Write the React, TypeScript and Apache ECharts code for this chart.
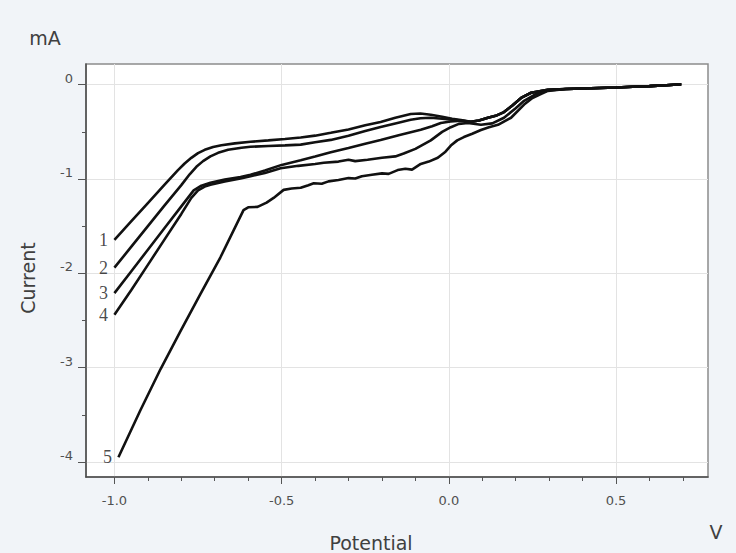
import React, { useEffect, useRef } from "react";
import * as echarts from "echarts";

const xMajor = [-1.0, -0.5, 0.0, 0.5];
const yMajor = [0, -1, -2, -3, -4];
const curveNames = ["1", "2", "3", "4", "5"];

// shared part of curves 1-3 after they merge
const merged123: number[][] = [
  [0.09, -0.38], [0.117, -0.35], [0.14, -0.33], [0.165, -0.29], [0.19, -0.22],
  [0.216, -0.14], [0.246, -0.085], [0.296, -0.053],
];
// shared plateau for all curves
const tail: number[][] = [
  [0.35, -0.045], [0.4, -0.04], [0.45, -0.035], [0.5, -0.03], [0.55, -0.022],
  [0.6, -0.015], [0.65, -0.005], [0.695, 0.005],
];

const curve1: number[][] = [
  [-1.0, -1.645], [-0.95, -1.45], [-0.9, -1.255], [-0.85, -1.06], [-0.81, -0.905],
  [-0.79, -0.835], [-0.77, -0.775], [-0.75, -0.725], [-0.73, -0.69], [-0.705, -0.66],
  [-0.68, -0.642], [-0.64, -0.622],
  [-0.593, -0.605], [-0.54, -0.59], [-0.49, -0.575], [-0.443, -0.56], [-0.4, -0.54],
  [-0.353, -0.51], [-0.3, -0.475], [-0.25, -0.43], [-0.204, -0.395], [-0.16, -0.35],
  [-0.114, -0.31], [-0.085, -0.305], [-0.054, -0.318], [-0.02, -0.34], [0.01, -0.36],
  [0.036, -0.375], [0.066, -0.393],
];
const curve2: number[][] = [
  [-1.0, -1.94], [-0.95, -1.72], [-0.9, -1.5], [-0.85, -1.28], [-0.8, -1.065],
  [-0.775, -0.95], [-0.755, -0.87], [-0.735, -0.81], [-0.713, -0.76], [-0.69, -0.722],
  [-0.66, -0.69], [-0.62, -0.668],
  [-0.593, -0.658], [-0.54, -0.65], [-0.49, -0.643], [-0.443, -0.635], [-0.4, -0.61],
  [-0.353, -0.585], [-0.3, -0.54], [-0.25, -0.49], [-0.204, -0.447], [-0.16, -0.41],
  [-0.114, -0.372], [-0.085, -0.355], [-0.054, -0.35], [-0.02, -0.36], [0.01, -0.37],
  [0.036, -0.38], [0.066, -0.393],
];
const curve3: number[][] = [
  [-1.0, -2.21], [-0.95, -1.98], [-0.9, -1.75], [-0.85, -1.52], [-0.8, -1.29],
  [-0.763, -1.12], [-0.74, -1.07], [-0.713, -1.04], [-0.67, -1.005], [-0.623, -0.978],
  [-0.593, -0.955], [-0.55, -0.91], [-0.5, -0.85], [-0.443, -0.8], [-0.4, -0.76],
  [-0.353, -0.715], [-0.3, -0.67], [-0.25, -0.625], [-0.204, -0.585], [-0.15, -0.535],
  [-0.084, -0.478], [-0.05, -0.44], [-0.024, -0.405], [0.005, -0.39], [0.036, -0.382],
  [0.066, -0.393],
];
const curve4: number[][] = [
  [-1.0, -2.44], [-0.95, -2.18], [-0.9, -1.91], [-0.85, -1.64], [-0.8, -1.37],
  [-0.77, -1.2], [-0.75, -1.12], [-0.73, -1.08], [-0.713, -1.06], [-0.67, -1.025],
  [-0.623, -0.995], [-0.593, -0.97], [-0.55, -0.935], [-0.503, -0.885], [-0.45, -0.86],
  [-0.4, -0.84], [-0.374, -0.828], [-0.33, -0.815], [-0.3, -0.795], [-0.28, -0.81],
  [-0.243, -0.796], [-0.2, -0.775], [-0.16, -0.76], [-0.135, -0.73], [-0.1, -0.68],
  [-0.054, -0.59], [-0.02, -0.5], [0.006, -0.45], [0.03, -0.415], [0.057, -0.405],
  [0.096, -0.425], [0.13, -0.41], [0.165, -0.35], [0.2, -0.25], [0.225, -0.17],
  [0.26, -0.1], [0.296, -0.06],
];
const curve5: number[][] = [
  [-0.988, -3.95], [-0.922, -3.45], [-0.862, -3.015], [-0.802, -2.61], [-0.743, -2.22],
  [-0.683, -1.83], [-0.614, -1.33],
  [-0.6, -1.3], [-0.572, -1.295], [-0.545, -1.25], [-0.524, -1.2], [-0.494, -1.115],
  [-0.47, -1.1], [-0.443, -1.093], [-0.42, -1.065], [-0.404, -1.045], [-0.38, -1.05],
  [-0.36, -1.025], [-0.33, -1.01], [-0.3, -0.99], [-0.28, -0.995], [-0.26, -0.97],
  [-0.23, -0.955], [-0.2, -0.94], [-0.18, -0.945], [-0.153, -0.905], [-0.13, -0.89],
  [-0.11, -0.9], [-0.084, -0.84], [-0.06, -0.815], [-0.033, -0.775], [-0.01, -0.71],
  [0.006, -0.645], [0.025, -0.59], [0.045, -0.555], [0.07, -0.52], [0.096, -0.48],
  [0.12, -0.45], [0.147, -0.425], [0.186, -0.35], [0.225, -0.21], [0.25, -0.14],
  [0.275, -0.1], [0.296, -0.065],
];

const curves = [
  curve1.concat(merged123, tail),
  curve2.concat(merged123, tail),
  curve3.concat(merged123, tail),
  curve4.concat(tail),
  curve5.concat(tail),
];

export default function App() {
  const ref = useRef<HTMLDivElement>(null);
  useEffect(() => {
    if (!ref.current) return;
    const chart = echarts.init(ref.current, undefined, { renderer: "svg" });
    const axisText = { fontFamily: "DejaVu Sans", fontSize: 13, color: "#505050" };
    const titleText = { fontFamily: "DejaVu Sans", fontSize: 19, fill: "#404040" };
    const lineSeries = curves.map((d, i) => ({
      type: "line",
      name: curveNames[i],
      data: d,
      symbol: "none",
      lineStyle: { color: "#111", width: 2.6 },
      z: 3,
    }));
    const labelData = curves.map((d, i) => [d[0][0], d[0][1], curveNames[i]]);
    chart.setOption({
      animation: false,
      backgroundColor: "#f1f4f8",
      grid: {
        left: 86, top: 64, right: 28, bottom: 76,
        show: true, backgroundColor: "#ffffff", borderColor: "#8c8c8c", borderWidth: 1.5,
        outerBoundsMode: "none",
      },
      xAxis: {
        type: "value", min: -1.085, max: 0.775, splitNumber: 4,
        axisLine: { show: true, onZero: false, lineStyle: { color: "#4d4d4d", width: 1.5 } },
        axisTick: { show: true, length: 7, customValues: xMajor, lineStyle: { color: "#555" } },
        minorTick: { show: true, splitNumber: 5, length: 4, lineStyle: { color: "#555" } },
        axisLabel: { customValues: xMajor, formatter: (v: number) => v.toFixed(1), margin: 17, ...axisText },
        splitLine: { show: true, lineStyle: { color: "#e3e3e3", width: 1 } },
        minorSplitLine: { show: false },
      },
      yAxis: {
        type: "value", min: -4.16, max: 0.22, splitNumber: 5,
        axisLine: { show: true, onZero: false, lineStyle: { color: "#4d4d4d", width: 1.5 } },
        axisTick: { show: true, length: 8, customValues: yMajor, lineStyle: { color: "#555" } },
        minorTick: { show: true, splitNumber: 2, length: 4, lineStyle: { color: "#555" } },
        axisLabel: { customValues: yMajor, formatter: (v: number) => String(v), margin: 13, verticalAlign: "bottom", ...axisText },
        splitLine: { show: true, lineStyle: { color: "#e3e3e3", width: 1 } },
        minorSplitLine: { show: false },
      },
      series: [
        ...lineSeries,
        {
          type: "scatter",
          data: labelData,
          symbolSize: 1,
          itemStyle: { color: "rgba(0,0,0,0)" },
          label: {
            show: true, position: "left", distance: 6,
            formatter: (p: any) => p.value[2],
            fontFamily: "Liberation Serif", fontSize: 18, color: "#1a1a1a",
          },
          z: 4,
        },
      ],
      graphic: [
        { type: "text", x: 45, y: 38, style: { text: "mA", align: "center", verticalAlign: "middle", ...titleText } },
        { type: "text", x: 28, y: 278, rotation: Math.PI / 2, style: { text: "Current", align: "center", verticalAlign: "middle", ...titleText } },
        { type: "text", x: 371, y: 543, style: { text: "Potential", align: "center", verticalAlign: "middle", ...titleText } },
        { type: "text", x: 716, y: 532, style: { text: "V", align: "center", verticalAlign: "middle", ...titleText } },
      ],
    });
    return () => chart.dispose();
  }, []);
  return <div ref={ref} style={{ position: "fixed", left: 0, top: 0, width: 736, height: 553 }} />;
}
